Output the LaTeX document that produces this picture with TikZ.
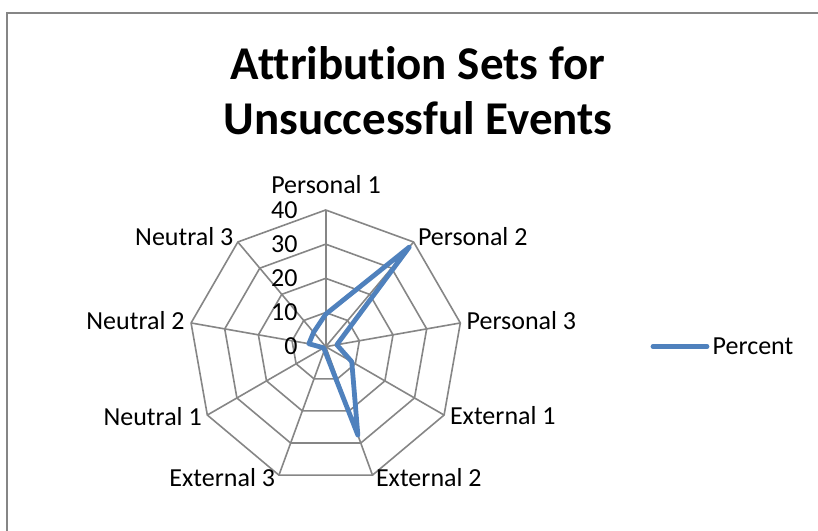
\documentclass[tikz,border=0pt]{standalone}
\usepackage{fontspec}
\setmainfont{Carlito}[Ligatures=NoCommon]
\usepackage{tikz}

\begin{document}
\begin{tikzpicture}[x=1pt,y=1pt,
  gridline/.style={draw=drawColor,line width=1.6pt,line join=round},
  axislabel/.style={text=drawColor,inner sep=0pt,outer sep=0pt,font=\fontsize{26}{31}\selectfont},
  serieline/.style={draw=seriesColor,line width=4.8pt,line join=round,line cap=round}]
\definecolor{fillColor}{RGB}{255,255,255}
\path[use as bounding box,fill=fillColor] (0,0) rectangle (818,530);
\begin{scope}
\path[clip] (0,0) rectangle (818,530);
\definecolor{drawColor}{RGB}{134,134,134}
% chart area frame, cut by the page
\path[draw=drawColor,line width=2pt] (6.50,517.30) rectangle (840.00,-20.00);
\end{scope}
\begin{scope}
\definecolor{drawColor}{RGB}{0,0,0}

\node[text=drawColor,anchor=base,inner sep=0pt,outer sep=0pt,font=\bfseries\fontsize{47}{56}\selectfont] (title1) at (418.00,450.00) {Attribution Sets for};

\node[text=drawColor,anchor=base,inner sep=0pt,outer sep=0pt,font=\bfseries\fontsize{47}{56}\selectfont] (title2) at (418.00,395.00) {Unsuccessful Events};
\end{scope}
\begin{scope}[shift={(325.70,183.30)}]
\definecolor{drawColor}{RGB}{134,134,134}
% spokes
\path[gridline] (0,0) -- (90:136.70);
\path[gridline] (0,0) -- (50:136.70);
\path[gridline] (0,0) -- (10:136.70);
\path[gridline] (0,0) -- (-30:136.70);
\path[gridline] (0,0) -- (-70:136.70);
\path[gridline] (0,0) -- (-110:136.70);
\path[gridline] (0,0) -- (-150:136.70);
\path[gridline] (0,0) -- (170:136.70);
\path[gridline] (0,0) -- (130:136.70);
% rings 10, 20, 30, 40
\path[gridline] (90:34.18) -- (50:34.18) -- (10:34.18) -- (-30:34.18) -- (-70:34.18) -- (-110:34.18) -- (-150:34.18) -- (170:34.18) -- (130:34.18) -- cycle;

\path[gridline] (90:68.35) -- (50:68.35) -- (10:68.35) -- (-30:68.35) -- (-70:68.35) -- (-110:68.35) -- (-150:68.35) -- (170:68.35) -- (130:68.35) -- cycle;

\path[gridline] (90:102.53) -- (50:102.53) -- (10:102.53) -- (-30:102.53) -- (-70:102.53) -- (-110:102.53) -- (-150:102.53) -- (170:102.53) -- (130:102.53) -- cycle;

\path[gridline] (90:136.70) -- (50:136.70) -- (10:136.70) -- (-30:136.70) -- (-70:136.70) -- (-110:136.70) -- (-150:136.70) -- (170:136.70) -- (130:136.70) -- cycle;
\end{scope}
\begin{scope}
\definecolor{drawColor}{RGB}{0,0,0}

\node[axislabel,anchor=base east] (tick40) at (297.50,311.70) {40};

\node[axislabel,anchor=base east] (tick30) at (297.50,277.50) {30};

\node[axislabel,anchor=base east] (tick20) at (297.50,243.40) {20};

\node[axislabel,anchor=base east] (tick10) at (297.50,209.20) {10};

\node[axislabel,anchor=base east] (tick0) at (297.50,175.00) {0};

\node[axislabel,anchor=base] (personal1) at (326.00,336.00) {Personal 1};

\node[axislabel,anchor=base west] (personal2) at (418.00,284.00) {Personal 2};

\node[axislabel,anchor=base west] (personal3) at (466.70,200.00) {Personal 3};

\node[axislabel,anchor=base west] (external1) at (450.00,106.00) {External 1};

\node[axislabel,anchor=base west] (external2) at (376.00,43.30) {External 2};

\node[axislabel,anchor=base east] (external3) at (275.00,43.30) {External 3};

\node[axislabel,anchor=base east] (neutral1) at (201.70,105.00) {Neutral 1};

\node[axislabel,anchor=base east] (neutral2) at (184.50,200.00) {Neutral 2};

\node[axislabel,anchor=base east] (neutral3) at (233.30,284.00) {Neutral 3};
\end{scope}
\begin{scope}[shift={(325.70,183.30)}]
\definecolor{seriesColor}{RGB}{79,129,189}
% Percent series
\path[serieline] (90:32.50) -- (50:129.90) -- (10:11.30) -- (-30:30.10) -- (-70:94.00) -- (-110:3.40) -- (-150:2.40) -- (170:17.10) -- (130:18.80) -- cycle;
\end{scope}
\begin{scope}
\definecolor{seriesColor}{RGB}{79,129,189}
\definecolor{drawColor}{RGB}{0,0,0}

\path[serieline] (653.00,183.30) -- (707.00,183.30);

\node[axislabel,anchor=base west] (legend) at (712.70,175.00) {Percent};
\end{scope}
\end{tikzpicture}
\end{document}
